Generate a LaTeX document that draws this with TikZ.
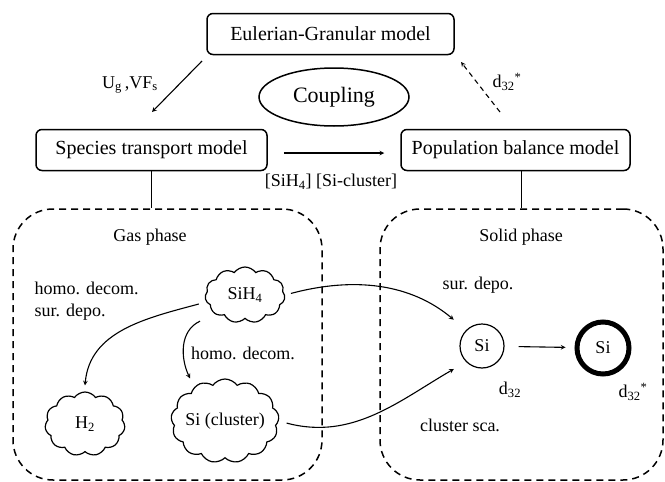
\documentclass[tikz,border=0pt]{standalone}
\usepackage{fontspec}
\setmainfont{Liberation Serif}
\usepackage{tikz}
\usetikzlibrary{positioning, shapes.geometric, shapes.symbols, arrows}
\tikzstyle{arrow} = [line width=1.1pt,->,>=stealth]
\tikzstyle{model} = [draw, line width=1.5pt, rounded corners=6pt, minimum height=41pt, font=\fontsize{20}{22}\selectfont]
\tikzstyle{phasebox} = [draw, line width=1.5pt, dash pattern=on 7pt off 5pt, rounded corners=40pt]
\tikzstyle{puff} = [cloud, cloud puffs=11, cloud puff arc=110, cloud ignores aspect, draw, line width=1.2pt, inner sep=0pt]
\tikzstyle{lbl} = [font=\fontsize{18}{22}\selectfont]

\begin{document}
\begin{tikzpicture}[x=1pt, y=1pt]
  \useasboundingbox (0,0) rectangle (665,-482);

  % Models
  \node[model, minimum width=247pt] (egm) at (330.5,-34) {Eulerian-Granular model};
  \node[ellipse, draw, line width=1.5pt, minimum width=150pt, minimum height=58pt, font=\fontsize{22}{24}\selectfont] (coup) at (334,-97) {Coupling};
  \node[model, minimum width=231pt] (stm) at (151.5,-150) {Species transport model};
  \node[model, minimum width=229pt] (pbm) at (515.5,-150) {Population balance model};

  % Coupling arrows
  \coordinate (ug1) at (202,-61);
  \coordinate (ug2) at (152,-112);
  \draw[arrow] (ug1) -- (ug2);
  \node[lbl] (ug) at (130,-85) {U\textsubscript{g}\,,VF\textsubscript{s}};
  \coordinate (dd1) at (500,-112);
  \coordinate (dd2) at (461,-62);
  \draw[arrow, dash pattern=on 5pt off 4pt] (dd1) -- (dd2);
  \node[lbl] (dstar) at (507,-82) {d\textsubscript{32}\textsuperscript{*}};
  \draw[arrow, shorten <=16pt, shorten >=16pt] ([yshift=-3pt]stm.east) -- ([yshift=-3pt]pbm.west);
  \node[lbl] (conc) at (331,-182) {[SiH\textsubscript{4}] [Si-cluster]};

  % Phases
  \node[phasebox, minimum width=309pt, minimum height=271pt] (gas) at (167.5,-344.5) {};
  \node[phasebox, minimum width=283pt, minimum height=271pt] (solid) at (521.5,-344.5) {};
  \draw[line width=1.1pt] (stm.south) -- (stm.south |- gas.north);
  \draw[line width=1.1pt] (pbm.south -| solid.north) -- (solid.north);
  \node[lbl] (gasl) at (150,-237) {Gas phase};
  \node[lbl] (solidl) at (521,-237) {Solid phase};

  % Gas phase
  \node[lbl, align=left, anchor=west] (react) at (31,-301) {homo. decom.\\sur. depo.};
  \node[puff, minimum width=80pt, minimum height=56pt, label={[lbl]center:SiH\textsubscript{4}}] (sih4) at (245,-295) {};
  \node[puff, minimum width=80pt, minimum height=64pt, label={[lbl]center:H\textsubscript{2}}] (h2) at (85,-424) {};
  \node[puff, cloud puffs=13, minimum width=108pt, minimum height=84pt, label={[lbl]center:Si (cluster)}] (sicl) at (225,-421) {};
  \node[lbl] (homo) at (243,-353) {homo. decom.};
  \draw[arrow] ([xshift=-6pt,yshift=-9pt]sih4.west) to[out=195, in=85] ([yshift=6pt]h2.north);
  \draw[arrow] ([xshift=-45pt,yshift=-2pt]sih4.south) to[out=205, in=115] ([xshift=-35pt,yshift=0pt]sicl.north);

  % Solid phase
  \node[circle, draw, line width=1.2pt, minimum size=44pt, lbl] (si) at (482,-346) {Si};
  \node[circle, draw, line width=5pt, minimum size=52pt, lbl] (sib) at (603,-348) {Si};
  \draw[arrow, shorten <=14pt, shorten >=9pt] (si) -- (sib);
  \node[lbl] (d32) at (510,-390) {d\textsubscript{32}};
  \node[lbl] (d32s) at (633,-392) {d\textsubscript{32}\textsuperscript{*}};
  \node[lbl] (surd) at (478,-285) {sur. depo.};
  \node[lbl] (clsc) at (460,-425) {cluster sca.};
  \draw[arrow, shorten <=6pt, shorten >=16pt] (sih4.east) to[out=15, in=140] (si.north west);
  \draw[arrow, shorten <=8pt, shorten >=14pt] (sicl.east) to[out=-15, in=210] (si.south west);
\end{tikzpicture}
\end{document}
